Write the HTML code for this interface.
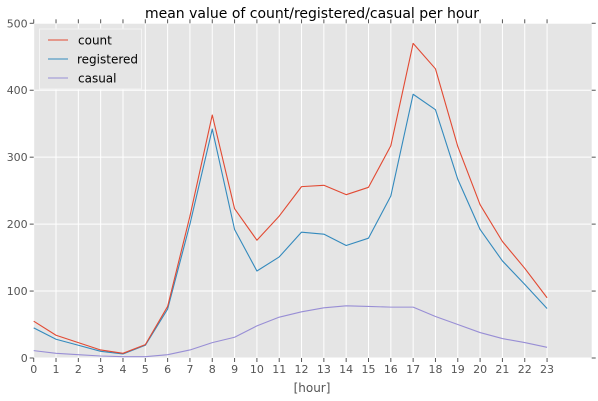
<!DOCTYPE html>
<html><head><meta charset="utf-8"><style>
body{margin:0;background:#fff;}
svg{display:block;font-family:"DejaVu Sans","Liberation Sans",sans-serif;}
</style></head><body>
<svg id="chart" width="598" height="401" viewBox="0 0 598 401">
<rect x="0" y="0" width="598" height="401" fill="#fff"/>
<rect x="33.7" y="23.3" width="558" height="334.7" fill="#E5E5E5"/>
<g id="grid"></g>
<g id="axes"></g>
<g id="series"></g>
<text x="312" y="18" text-anchor="middle" font-size="14" fill="#000">mean value of count/registered/casual per hour</text>
<text x="312" y="392" text-anchor="middle" font-size="12" fill="#555">[hour]</text>
<g>
<rect x="39.5" y="29" width="102" height="60" fill="#E5E5E5" stroke="#f4f4f4" stroke-width="1"/>
<g><line x1="48" y1="40" x2="68" y2="40" stroke="#E24A33" stroke-width="1"/><text x="78" y="44.5" font-size="12" fill="#000">count</text></g>
<g><line x1="48" y1="59" x2="68" y2="59" stroke="#348ABD" stroke-width="1"/><text x="77" y="63.5" font-size="12" fill="#000">registered</text></g>
<g><line x1="48" y1="78" x2="68" y2="78" stroke="#988ED5" stroke-width="1"/><text x="78" y="82.5" font-size="12" fill="#000">casual</text></g>
</g>
</svg>
<script>
const hours = [0,1,2,3,4,5,6,7,8,9,10,11,12,13,14,15,16,17,18,19,20,21,22,23];
const countVals = [55,34,23,12,7,20,77,212,363,223,176,212,256,258,244,255,317,470,432,316,229,174,134,90];
const registeredVals = [45,28,19,10,6,19,73,200,342,192,130,151,188,185,168,179,242,394,371,267,192,145,110,74];
const casualVals = [11,7,5,3,2,2,5,12,23,31,48,61,69,75,78,77,76,76,62,50,38,29,23,16];
const yTicks = [0,100,200,300,400,500];
const xTickLabels = ["0","1","2","3","4","5","6","7","8","9","10","11","12","13","14","15","16","17","18","19","20","21","22","23"];

const L=33.7,R=591.7,T=23.3,B=358;
const X0=0,X1=25,Y0=0,Y1=500;
function xs(v){return L+(v-X0)/(X1-X0)*(R-L);}
function ys(v){return B-(v-Y0)/(Y1-Y0)*(B-T);}
const NS="http://www.w3.org/2000/svg";
function mk(tag,attrs,parent){const e=document.createElementNS(NS,tag);for(const k in attrs)e.setAttribute(k,attrs[k]);parent.appendChild(e);return e;}
const grid=document.getElementById('grid'),axes=document.getElementById('axes'),series=document.getElementById('series');

hours.forEach((h,i)=>{
  const x=xs(h);
  const g=mk('line',{x1:x,y1:T,x2:x,y2:B,stroke:'#fff','stroke-width':1},grid);
  
  
  mk('line',{x1:x,y1:B,x2:x,y2:B+4,stroke:'#555','stroke-width':1},axes);
  mk('line',{x1:x,y1:T,x2:x,y2:T-4,stroke:'#555','stroke-width':1},axes);
  const t=mk('text',{x:x,y:B+15,'text-anchor':'middle','font-size':11,fill:'#555'},axes);
  t.textContent=xTickLabels[i];
  
  
});
yTicks.forEach(v=>{
  const y=ys(v);
  const g=mk('line',{x1:L,y1:y,x2:R,y2:y,stroke:'#fff','stroke-width':1},grid);
  
  
  mk('line',{x1:L-4,y1:y,x2:L,y2:y,stroke:'#555','stroke-width':1},axes);
  mk('line',{x1:R,y1:y,x2:R+4,y2:y,stroke:'#555','stroke-width':1},axes);
  const t=mk('text',{x:L-6,y:y+4,'text-anchor':'end','font-size':11,fill:'#555'},axes);
  t.textContent=String(v);
  
  
});
function line(vals,color,name){
  const pts=hours.map((h,i)=>xs(h).toFixed(2)+','+ys(vals[i]).toFixed(2)).join(' ');
  const p=mk('polyline',{points:pts,fill:'none',stroke:color,'stroke-width':1.1,'stroke-linejoin':'round'},series);
  
  
}
line(casualVals,'#988ED5','casual-line');
line(registeredVals,'#348ABD','registered-line');
line(countVals,'#E24A33','count-line');
</script>
</body></html>
